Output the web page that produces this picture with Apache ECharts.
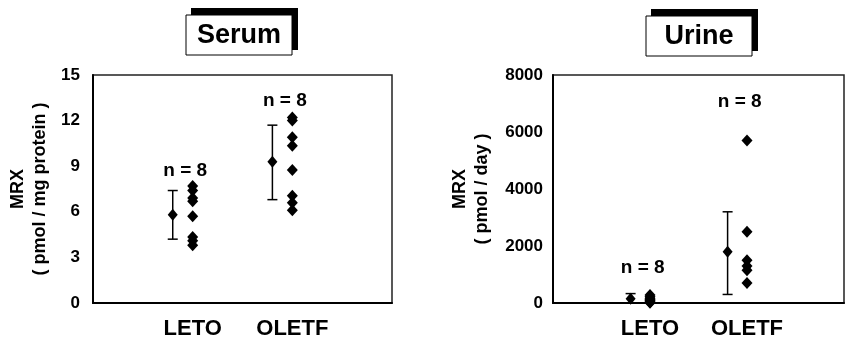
<!DOCTYPE html>
<html>
<head>
<meta charset="utf-8">
<script src="https://cdn.jsdelivr.net/npm/echarts@6/dist/echarts.min.js"></script>
<style>
  html, body { margin: 0; padding: 0; background: #fff; }
  #chart { width: 847px; height: 343px; }
</style>
</head>
<body>
<div id="chart"></div>
<script>
var groups = ['LETO', 'OLETF'];
var groupX = [2, 4];          // where each group's raw points sit
var meanShift = 0.4;          // mean +/- bar drawn left of the points

// Serum, pmol / mg protein
var serumLeto = [7.7, 7.4, 6.9, 6.7, 5.7, 4.35, 4.1, 3.8];
var serumOletf = [12.2, 12.0, 10.9, 10.35, 8.75, 7.05, 6.6, 6.1];
var serumMean = [5.8, 9.3];
var serumLow = [4.2, 6.8];
var serumHigh = [7.4, 11.7];
var serumTicks = [0, 3, 6, 9, 12, 15];

// Urine, pmol / day
var urineLeto = [280, 220, 170, 120, 90, 60, 30, 10];
var urineOletf = [5700, 2500, 1500, 1300, 1150, 700];
var urineMean = [150, 1800];
var urineLow = [0, 300];
var urineHigh = [330, 3200];
var urineTicks = [0, 2000, 4000, 6000, 8000];

var nLabel = 'n = 8';
var serumNY = [8.7, 13.3];
var urineNY = [1230, 7060];

var font = "'Liberation Sans', Arial, sans-serif";
var myChart = echarts.init(document.getElementById('chart'));

function pointsData(a, b) {
	var out = [];
	a.forEach(function (v) { out.push([groupX[0], v]); });
	b.forEach(function (v) { out.push([groupX[1], v]); });
	return out;
}
function meanData(mean) {
	return mean.map(function (v, i) { return [groupX[i] - meanShift, v]; });
}
function barData(low, high) {
	return low.map(function (v, i) { return [groupX[i] - meanShift, v, high[i]]; });
}
function labelData(ys) {
	return ys.map(function (v, i) { return [groupX[i] - 0.15, v]; });
}

function errorBar(params, api) {
	var lo = api.coord([api.value(0), api.value(1)]);
	var hi = api.coord([api.value(0), api.value(2)]);
	var w = 5;
	var st = { stroke: '#000', lineWidth: 1.5 };
	return {
		type: 'group',
		children: [
			{ type: 'line', shape: { x1: lo[0], y1: lo[1], x2: hi[0], y2: hi[1] }, style: st },
			{ type: 'line', shape: { x1: lo[0] - w, y1: lo[1], x2: lo[0] + w, y2: lo[1] }, style: st },
			{ type: 'line', shape: { x1: hi[0] - w, y1: hi[1], x2: hi[0] + w, y2: hi[1] }, style: st }
		]
	};
}

function xAxisFor(idx) {
	return {
		gridIndex: idx,
		type: 'value',
		min: 0,
		max: 6,
		interval: 1,
		axisLine: { lineStyle: { color: '#000', width: 2 } },
		axisTick: { show: false },
		splitLine: { show: false },
		axisLabel: {
			margin: 15,
			color: '#000',
			fontFamily: font,
			fontWeight: 'bold',
			fontSize: 22,
			formatter: function (v) {
				var k = groupX.indexOf(v);
				return k >= 0 ? groups[k] : '';
			}
		}
	};
}

function yAxisFor(idx, ticks, name, gap, fs, margin) {
	return {
		gridIndex: idx,
		type: 'value',
		min: ticks[0],
		max: ticks[ticks.length - 1],
		interval: ticks[1] - ticks[0],
		name: name,
		nameLocation: 'middle',
		nameRotate: 90,
		nameGap: gap,
		nameTextStyle: { color: '#000', fontFamily: font, fontWeight: 'bold', fontSize: 18, lineHeight: 22 },
		axisLine: { show: true, lineStyle: { color: '#000', width: 2 } },
		axisTick: { show: false },
		splitLine: { show: false },
		axisLabel: {
			margin: margin, color: '#000', fontFamily: font, fontWeight: 'bold', fontSize: fs,
			formatter: function (v) { return String(v); }
		}
	};
}

function panelSeries(idx, a, b, mean, low, high, nY) {
	return [
		{
			type: 'custom',
			xAxisIndex: idx, yAxisIndex: idx,
			renderItem: errorBar,
			data: barData(low, high),
			z: 2
		},
		{
			type: 'scatter',
			xAxisIndex: idx, yAxisIndex: idx,
			symbol: 'diamond',
			symbolSize: [10, 12],
			itemStyle: { color: '#000', opacity: 1 },
			data: meanData(mean),
			z: 3
		},
		{
			type: 'scatter',
			xAxisIndex: idx, yAxisIndex: idx,
			symbol: 'diamond',
			symbolSize: [11, 12],
			itemStyle: { color: '#000', opacity: 1 },
			data: pointsData(a, b),
			z: 3
		},
		{
			type: 'scatter',
			xAxisIndex: idx, yAxisIndex: idx,
			symbolSize: 0,
			silent: true,
			itemStyle: { opacity: 1 },
			label: {
				show: true,
				position: 'inside',
				formatter: nLabel,
				color: '#000',
				opacity: 1,
				fontFamily: font,
				fontWeight: 'bold',
				fontSize: 19
			},
			data: labelData(nY)
		}
	];
}

function titleBox(x, y, text) {
	return [
		{ type: 'rect', shape: { x: x + 5, y: y - 7, width: 107, height: 42 }, style: { fill: '#000' } },
		{ type: 'rect', shape: { x: x, y: y, width: 106, height: 40 }, style: { fill: '#fff', stroke: '#000', lineWidth: 1 } },
		{ type: 'text', x: x + 53, y: y + 21, style: { text: text, fill: '#000', font: 'bold 27px ' + font, textAlign: 'center', textVerticalAlign: 'middle' } }
	];
}

var option = {
	animation: false,
	backgroundColor: '#fff',
	grid: [
		{ left: 93, top: 75, width: 299, height: 228, show: true, borderColor: '#222', borderWidth: 1.5 },
		{ left: 553, top: 75, width: 299, height: 228, show: true, borderColor: '#222', borderWidth: 1.5 }
	],
	xAxis: [xAxisFor(0), xAxisFor(1)],
	yAxis: [
		yAxisFor(0, serumTicks, 'MRX\n( pmol / mg protein )', 42, 17, 13),
		yAxisFor(1, urineTicks, 'MRX\n( pmol / day )', 60, 17, 10)
	],
	graphic: titleBox(186, 15, 'Serum').concat(titleBox(646, 16, 'Urine')),
	series: panelSeries(0, serumLeto, serumOletf, serumMean, serumLow, serumHigh, serumNY)
		.concat(panelSeries(1, urineLeto, urineOletf, urineMean, urineLow, urineHigh, urineNY))
};
myChart.setOption(option);
</script>
</body>
</html>
